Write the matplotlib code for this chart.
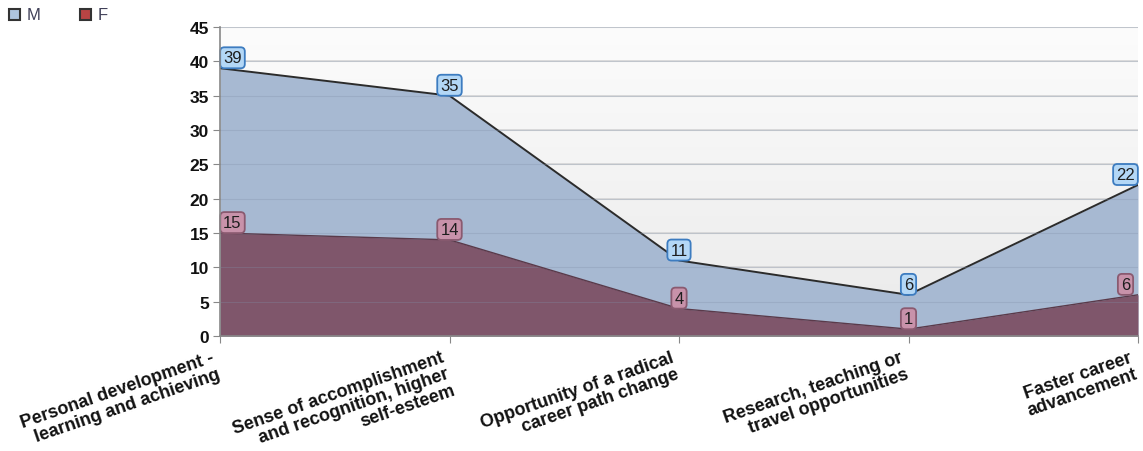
import matplotlib
matplotlib.use("Agg")
import matplotlib.pyplot as plt
import matplotlib.transforms as mtransforms
from matplotlib.colors import LinearSegmentedColormap
from matplotlib.patches import Rectangle
import numpy as np

categories = ["Personal development -\nlearning and achieving",
              "Sense of accomplishment\nand recognition, higher\nself-esteem",
              "Opportunity of a radical\ncareer path change",
              "Research, teaching or\ntravel opportunities",
              "Faster career\nadvancement"]
m_values = [39, 35, 11, 6, 22]
f_values = [15, 14, 4, 1, 6]
y_ticks = [0, 5, 10, 15, 20, 25, 30, 35, 40, 45]

plt.rcParams['font.family'] = ['Liberation Sans', 'DejaVu Sans']

fig = plt.figure(figsize=(11.43, 4.52), dpi=100)
ax = fig.add_axes([220/1143, 1 - 337/452, (1138-220)/1143, (337-28)/452])

x = np.arange(len(categories))
ax.set_xlim(0, len(categories) - 1)

# gradient background (light at top, slightly grey at bottom)
grad = np.linspace(0, 1, 256).reshape(-1, 1)
cmap = LinearSegmentedColormap.from_list("bg", ["#fcfcfc", "#eaeaea"])
ax.imshow(grad, aspect='auto', cmap=cmap, extent=[0, len(categories) - 1, 0, 45],
          zorder=0, origin='upper')
ax.set_ylim(0, 45)

for t in y_ticks[1:]:
    ax.axhline(t, color='#d6d6d6', lw=1.2, zorder=1)

m_fill = '#a7b9d2'
f_fill = '#7f566b'
ax.fill_between(x, 0, m_values, color=m_fill, zorder=2, lw=0)
ax.plot(x, m_values, color='#2b2b2b', lw=1.4, zorder=3)
ax.fill_between(x, 0, f_values, color=f_fill, zorder=4, lw=0)
ax.plot(x, f_values, color='#5a3a4a', lw=1.0, zorder=5)

for t in y_ticks[1:]:
    ax.axhline(t, color='#8090a8', lw=0.8, alpha=0.3, zorder=4.5)

def label(xi, yi, txt, fc, ec, dx=0):
    ax.annotate(txt, (xi, yi), xytext=(dx, 7.5), textcoords='offset points',
                ha='center', va='center', fontsize=12, color='#1e1e1e', zorder=10,
                bbox=dict(boxstyle='round,pad=0.18,rounding_size=0.25', fc=fc, ec=ec, lw=1.3),
                annotation_clip=False)

for i, (mv, fv) in enumerate(zip(m_values, f_values)):
    dx = 0
    if i == 0:
        dx = 9
    elif i == len(categories) - 1:
        dx = -9
    label(i, mv, str(mv), '#b3d7f6', '#3d7cc0', dx)
    label(i, fv, str(fv), '#c892aa', '#8a5a70', dx)

ax.set_yticks(y_ticks)
ax.set_yticklabels([str(v) for v in y_ticks], fontsize=12.5, fontweight='bold', color='#111111')
ax.set_xticks(x)
ax.set_xticklabels([''] * len(categories))
lab_trans = ax.get_xaxis_transform() + mtransforms.ScaledTranslation(-9/100, -13/100, fig.dpi_scale_trans)
for i, cat in enumerate(categories):
    ax.text(i, 0, cat, transform=lab_trans, rotation=19, ha='right', va='top',
            rotation_mode='anchor', multialignment='right', fontsize=13,
            fontweight='bold', color='#111111', linespacing=1.0, clip_on=False)
ax.tick_params(axis='x', length=5, color='#888888', pad=6)
ax.tick_params(axis='y', length=5, color='#888888', pad=3)
for s in ['top', 'right']:
    ax.spines[s].set_visible(False)
for s in ['left', 'bottom']:
    ax.spines[s].set_color('#888888')
    ax.spines[s].set_linewidth(1.2)
ax.spines['left'].set_zorder(11)
ax.spines['bottom'].set_zorder(11)

# legend
fig.patches.append(Rectangle((9/1143, 1 - 21/452), 11/1143, 11/452, transform=fig.transFigure,
                             fc='#aec4de', ec='#333333', lw=1.5))
fig.text(27/1143, 1 - 15.5/452, 'M', fontsize=12, color='#404058', va='center', ha='left')
fig.patches.append(Rectangle((80/1143, 1 - 21/452), 11/1143, 11/452, transform=fig.transFigure,
                             fc='#b84444', ec='#333333', lw=1.5))
fig.text(98/1143, 1 - 15.5/452, 'F', fontsize=12, color='#404058', va='center', ha='left')

fig.savefig('out.png', dpi=100)
